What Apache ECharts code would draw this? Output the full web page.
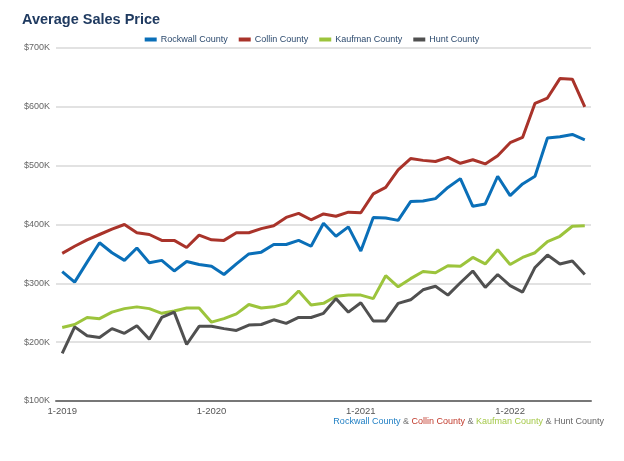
<!DOCTYPE html>
<html>
<head>
<meta charset="utf-8">
<script src="https://cdn.jsdelivr.net/npm/echarts@6/dist/echarts.min.js"></script>
<style>
html,body{margin:0;padding:0;background:#fff;}
#chart{width:624px;height:461px;}
</style>
</head>
<body>
<div id="chart"></div>
<script>
// Monthly categories Jan 2019 .. Jul 2022
const categories = [];
for (let y = 2019; y <= 2022; y++) {
  for (let m = 1; m <= 12; m++) {
    if (y === 2022 && m > 7) break;
    categories.push(m + '-' + y);
  }
}
const seriesNames = ['Rockwall County', 'Collin County', 'Kaufman County', 'Hunt County'];
// values in thousands of dollars
const rockwall = [320,302,336,369,352,339,360,335,339,321,337,332,329,315,333,350,353,366,366,373,363,402,380,396,355,412,411,407,439,440,444,463,478,431,435,482,449,469,482,547,549,553,544];
const collin   = [351,363,374,383,392,400,386,383,373,373,361,382,374,373,386,386,393,398,412,419,408,418,414,421,420,452,463,493,512,509,507,514,504,510,503,517,539,548,606,615,648,647,600];
const kaufman  = [225,230,242,240,251,257,260,257,249,253,258,258,234,240,248,264,258,260,266,287,263,266,278,280,280,274,313,294,308,320,318,330,329,344,333,357,332,344,352,371,380,397,398];
const hunt     = [181,226,211,208,223,215,228,205,242,251,196,227,227,223,220,229,230,238,232,242,242,249,274,251,267,236,236,266,272,289,295,280,301,321,293,315,296,285,327,348,333,338,315];
const colors = ['#0a6fb8', '#a9332a', '#9cc43c', '#505050'];

const dataSets = [rockwall, collin, kaufman, hunt];
const FONT = 'Liberation Sans, Arial, sans-serif';
const chart = echarts.init(document.getElementById('chart'));
chart.setOption({
  animation: false,
  color: colors,
  title: {
    text: 'Average Sales Price',
    left: 17, top: 7,
    textStyle: { fontFamily: FONT, fontSize: 14.5, fontWeight: 'bold', color: '#1f3a60' }
  },
  legend: {
    top: 30, left: 'center',
    itemWidth: 12, itemHeight: 4, itemGap: 11,
    icon: 'rect',
    data: seriesNames,
    textStyle: { fontFamily: FONT, fontSize: 9, color: '#2c4a6e', padding: [0,0,0,-1] }
  },
  grid: { left: 56, right: 33, top: 48, bottom: 60, containLabel: false },
  xAxis: {
    type: 'category',
    data: categories,
    boundaryGap: true,
    axisLine: { lineStyle: { color: '#777', width: 2 } },
    axisTick: { alignWithLabel: true, interval: 11, length: 4, lineStyle: { color: '#777' } },
    axisLabel: { interval: 11, fontFamily: FONT, fontSize: 9.5, color: '#555', margin: 5 },
    splitLine: { show: false }
  },
  yAxis: {
    type: 'value',
    min: 100000, max: 700000, interval: 100000,
    axisLine: { show: false },
    axisTick: { show: false },
    axisLabel: {
      fontFamily: FONT, fontSize: 9, color: '#666', margin: 6,
      formatter: v => '$' + (v / 1000) + 'K'
    },
    splitLine: { lineStyle: { color: '#d8d8d8', width: 1.5 } }
  },
  series: seriesNames.map((name, i) => ({
    name: name,
    type: 'line',
    data: dataSets[i].map(v => v * 1000),
    showSymbol: false,
    symbol: 'none',
    lineStyle: { width: 3, color: colors[i] },
    itemStyle: { color: colors[i] }
  })),
  graphic: [{
    type: 'text',
    right: 20, top: 417,
    style: {
      text: '{a|Rockwall County} {g|&} {b|Collin County} {g|&} {c|Kaufman County} {g|&} {d|Hunt County}',
      font: '9px Liberation Sans, Arial, sans-serif',
      rich: {
        a: { fill: '#1f7fc4', fontSize: 9 },
        b: { fill: '#c0392b', fontSize: 9 },
        c: { fill: '#a5c94a', fontSize: 9 },
        d: { fill: '#666666', fontSize: 9 },
        g: { fill: '#777777', fontSize: 9 }
      }
    }
  }]
});
</script>
</body>
</html>
